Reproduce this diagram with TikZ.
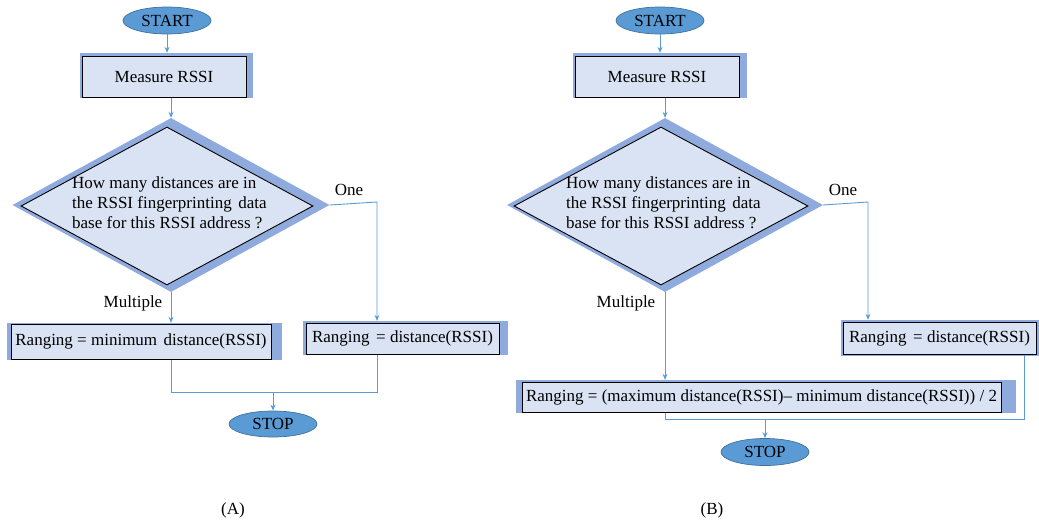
\documentclass[tikz,border=0pt]{standalone}
\usepackage{fontspec}
\setmainfont{Liberation Serif}
\usetikzlibrary{shapes.geometric,arrows.meta}

\definecolor{boxfill}{RGB}{218,227,243}
\definecolor{frameblue}{RGB}{143,170,220}
\definecolor{termfill}{RGB}{91,155,213}
\definecolor{termline}{RGB}{65,113,156}
\definecolor{linkblue}{RGB}{91,155,213}

\newcommand{\wsp}{\hspace{6.5pt}}

\tikzset{
  txt/.style={font=\fontsize{17}{20}\selectfont},
  terminal/.style={txt, ellipse, draw=termline, line width=0.7pt, fill=termfill,
    inner sep=0pt, minimum width=88pt, minimum height=27pt},
  backing/.style={rectangle, fill=frameblue, inner sep=0pt},
  stepbox/.style={txt, rectangle, draw=black, line width=1pt, fill=boxfill, inner sep=0pt},
  backdiamond/.style={diamond, fill=frameblue, inner sep=0pt},
  decision/.style={diamond, draw=black, line width=0.9pt, fill=boxfill, inner sep=0pt},
  question/.style={txt, align=left, anchor=west, inner sep=0pt},
  lbl/.style={txt, inner sep=0pt},
  conn/.style={draw=linkblue, line width=0.9pt},
  arr/.style={conn, -{Stealth[length=6pt,width=5pt]}},
}

\begin{document}
\begin{tikzpicture}[x=1pt,y=-1pt]
\useasboundingbox (0,0) rectangle (1039,522);

% ---------------- Flowchart (A) ----------------
\node[terminal] (startA) at (167,20.5) {START};

\node[backing, minimum width=173pt, minimum height=45pt] (measAbg) at (166.5,75.5) {};
\node[stepbox, minimum width=164pt, minimum height=41pt] (measA) at (164,76.5) {Measure RSSI};

\node[backdiamond, minimum width=317pt, minimum height=174pt] (dAbg) at (171,205) {};
\node[decision, minimum width=292pt, minimum height=158pt] (dA) at (167,206) {};
\node[question] (qA) at (72,203) {How many distances are in\\the RSSI fingerprinting\wsp data\\base for this RSSI address ?};

\node[lbl] (oneA) at (349,190) {One};
\node[lbl] (multA) at (133,303) {Multiple};

\node[backing, minimum width=275pt, minimum height=37pt] (minAbg) at (144.5,341.5) {};
\node[stepbox, minimum width=260pt, minimum height=35pt] (minA) at (141,341.5) {Ranging = minimum\wsp distance(RSSI)};

\node[backing, minimum width=205pt, minimum height=34pt] (distAbg) at (405.5,338) {};
\node[stepbox, minimum width=193pt, minimum height=31pt] (distA) at (402.5,338.5) {Ranging\wsp = distance(RSSI)};

\node[terminal, minimum height=26pt] (stopA) at (273,424) {STOP};

\coordinate (cA) at (377,202);
\coordinate (jA) at (273,392);

\draw[arr] (startA.south) -- (startA.south |- measAbg.north);
\draw[arr] (dAbg.north |- measAbg.south) -- (dAbg.north);
\draw[arr] (dAbg.east) -- (cA) -- (cA |- distAbg.north);
\draw[arr] (dAbg.south) -- (dAbg.south |- minAbg.north);
\draw[conn] (dAbg.south |- minA.south) |- (jA);
\draw[conn] (cA |- distA.south) |- (jA);
\draw[arr] (jA) -- (stopA.north);

\node[lbl] (capA) at (233,510) {(A)};

% ---------------- Flowchart (B) ----------------
\node[terminal] (startB) at (660,20.5) {START};

\node[backing, minimum width=174pt, minimum height=45pt] (measBbg) at (660,75.5) {};
\node[stepbox, minimum width=164pt, minimum height=41pt] (measB) at (657,76.5) {Measure RSSI};

\node[backdiamond, minimum width=316pt, minimum height=174pt] (dBbg) at (665,205) {};
\node[decision, minimum width=294pt, minimum height=158pt] (dB) at (661,206) {};
\node[question] (qB) at (566,203) {How many distances are in\\the RSSI fingerprinting\wsp data\\base for this RSSI address ?};

\node[lbl] (oneB) at (843,190) {One};
\node[lbl] (multB) at (626,303) {Multiple};

\node[backing, minimum width=198pt, minimum height=36pt] (distBbg) at (940,338) {};
\node[stepbox, minimum width=193pt, minimum height=32pt] (distB) at (939.5,338) {Ranging\wsp = distance(RSSI)};

\node[backing, minimum width=500pt, minimum height=33pt] (bigBbg) at (766,396.5) {};
\node[stepbox, minimum width=479pt, minimum height=30pt] (bigB) at (761.5,397) {Ranging = (maximum distance(RSSI)-- minimum distance(RSSI)) / 2};

\node[terminal] (stopB) at (765,452) {STOP};

\coordinate (cB) at (868,202);
\coordinate (eB) at (1024,419);
\coordinate (jB) at (765,419);

\draw[arr] (startB.south) -- (startB.south |- measBbg.north);
\draw[arr] (dBbg.north |- measBbg.south) -- (dBbg.north);
\draw[arr] (dBbg.east) -- (cB) -- (cB |- distBbg.north);
\draw[arr] (dBbg.south) -- (dBbg.south |- bigBbg.north);
\draw[conn] (eB |- distB.south) -- (eB) -- (dBbg.south |- eB) -- (dBbg.south |- bigB.south);
\draw[arr] (jB) -- (stopB.north);

\node[lbl] (capB) at (712,510) {(B)};
\end{tikzpicture}
\end{document}
